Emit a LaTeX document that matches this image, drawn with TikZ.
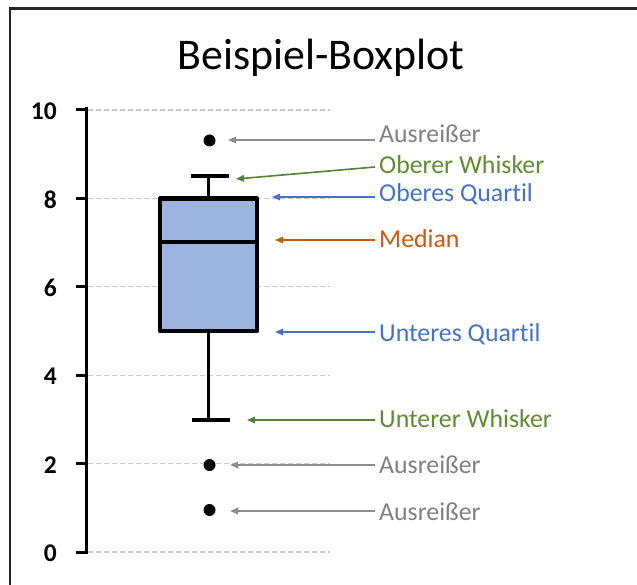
\documentclass[tikz,border=0pt]{standalone}
\usepackage{fontspec}
\setmainfont[Ligatures=NoCommon]{Carlito}
\usetikzlibrary{arrows.meta,calc}
\definecolor{grayc}{HTML}{808080}
\definecolor{grayarr}{HTML}{8C8C8C}
\definecolor{greenc}{HTML}{5E8C31}
\definecolor{greenarr}{HTML}{548235}
\definecolor{bluec}{HTML}{4472C4}
\definecolor{orangec}{HTML}{C55A11}
\definecolor{boxfill}{HTML}{9EB4E0}
\definecolor{gridc}{HTML}{C8C8C8}
\begin{document}
\begin{tikzpicture}[x=1pt,y=-1pt,
  lbl/.style={anchor=base west,inner sep=0pt,font=\fontsize{25.8}{30}\selectfont},
  ticklbl/.style={anchor=east,inner sep=0pt,font=\fontsize{25.5}{30}\selectfont\bfseries},
  arr/.style={line width=1.6pt,-{Triangle[length=8pt,width=6.5pt]}},
  gridln/.style={gridc,line width=1.4pt,dash pattern=on 5pt off 3pt},
  heavy/.style={line width=4pt,line cap=rect},
  dot/.style={circle,fill=black,inner sep=0pt,minimum size=12pt}]
\useasboundingbox (0,0) rectangle (637,585);
% frame
\draw[line width=2.2pt,black!85] (10,585) -- (10,8.5) -- (637,8.5);
% title
\node[inner sep=0pt,anchor=base,font=\fontsize{43.8}{50}\selectfont] (title) at (321,70) {Beispiel-Boxplot};
% grid and ticks
\foreach \v in {0,2,...,10}{
  \coordinate (g\v) at (88,{552-44.2*\v});
  \coordinate (ge\v) at (330,{552-44.2*\v});
  \draw[gridln] (g\v) -- (ge\v);
  \coordinate (tk\v) at (76,{552-44.2*\v});
  \coordinate (ta\v) at (86,{552-44.2*\v});
  \draw[line width=3pt] (tk\v) -- (ta\v);
  \node[ticklbl] (n\v) at (57,{552-44.2*\v+1.5}) {\v};
}
\draw[line width=3pt] (86,553.5) -- (86,107.5);
% box plot
\coordinate (wtop) at (208.5,176);
\coordinate (wbot) at (208.5,419.5);
\draw[line width=3.5pt] (wtop) -- (208.5,198.4);
\draw[line width=3.5pt] (208.5,331) -- (wbot);
\draw[heavy] (193,176) -- (227,176);
\draw[heavy] (194,419.5) -- (228,419.5);
\draw[line width=4.5pt,fill=boxfill,line join=round] (160,198.4) rectangle (257,331);
\draw[line width=4.5pt] (160,242) -- (257,242);
% outliers
\node[dot] (o1) at (209.5,140.5) {};
\node[dot] (o2) at (209.5,465) {};
\node[dot] (o3) at (209.5,510) {};
% labels
\node[lbl,text=grayc] (l1) at (379,143) {Ausreißer};
\node[lbl,text=greenc] (l2) at (379,174) {Oberer Whisker};
\node[lbl,text=bluec] (l3) at (379,202) {Oberes Quartil};
\node[lbl,text=orangec] (l4) at (379,248) {Median};
\node[lbl,text=bluec] (l5) at (379,341) {Unteres Quartil};
\node[lbl,text=greenc] (l6) at (379,427) {Unterer Whisker};
\node[lbl,text=grayc] (l7) at (379,473) {Ausreißer};
\node[lbl,text=grayc] (l8) at (379,520) {Ausreißer};
% arrow tips
\coordinate (t1) at (228,140);
\coordinate (t2) at (236,179);
\coordinate (t3) at (272,197);
\coordinate (t4) at (275,240);
\coordinate (t5) at (275,332);
\coordinate (t6) at (247,420);
\coordinate (t7) at (230,465);
\coordinate (t8) at (230,511);
\draw[arr,grayarr] ($(l1.base west |- t1)+(-4,0)$) -- (t1);
\draw[arr,greenarr] ($(l2.base west)+(-4,-7)$) -- (t2);
\draw[arr,bluec] ($(l3.base west |- t3)+(-4,0)$) -- (t3);
\draw[arr,orangec] ($(l4.base west |- t4)+(-4,0)$) -- (t4);
\draw[arr,bluec] ($(l5.base west |- t5)+(-4,0)$) -- (t5);
\draw[arr,greenarr] ($(l6.base west |- t6)+(-4,0)$) -- (t6);
\draw[arr,grayarr] ($(l7.base west |- t7)+(-4,0)$) -- (t7);
\draw[arr,grayarr] ($(l8.base west |- t8)+(-4,0)$) -- (t8);
\end{tikzpicture}
\end{document}
